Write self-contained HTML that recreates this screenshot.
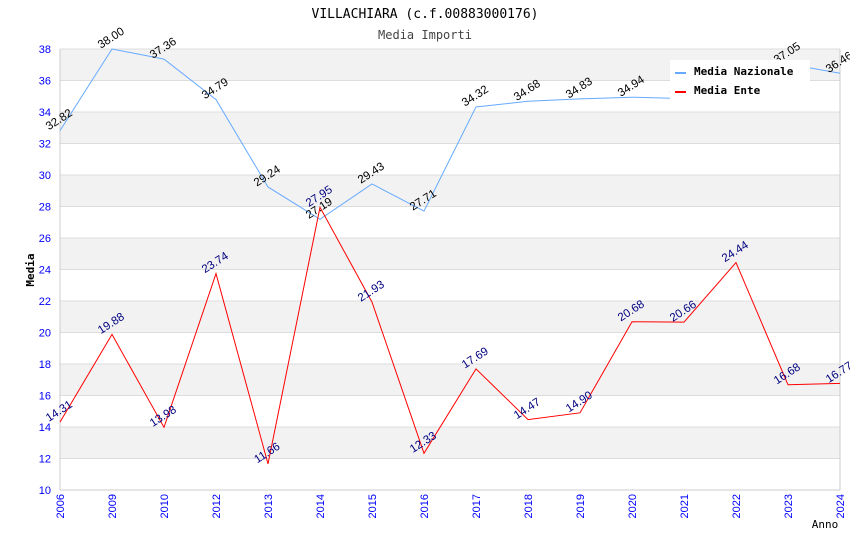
<!DOCTYPE html>
<html><head><meta charset="utf-8"><style>
body{margin:0;background:#fff;width:850px;height:550px;overflow:hidden}
svg{font-family:"DejaVu Sans Mono","Liberation Mono",monospace}
</style></head><body>
<svg id="c" width="850" height="550">
<text x="425" y="18" text-anchor="middle" font-size="13" fill="#000">VILLACHIARA (c.f.00883000176)</text>
<text x="425" y="39" text-anchor="middle" font-size="12" fill="#444">Media Importi</text>
<g id="bands"></g><g id="grid"></g><g id="axes"></g><g id="lines"></g><g id="labels"></g>
<text transform="translate(34,270) rotate(-90)" text-anchor="middle" font-size="11" font-weight="bold">Media</text>
<text x="825" y="528" text-anchor="middle" font-size="11">Anno</text>
<g>
<rect x="670" y="60" width="140" height="40" fill="#fff"/>
<line x1="675" y1="73" x2="686" y2="73" stroke="#66aaff" stroke-width="2"/>
<text x="694" y="75" font-size="11" font-weight="bold">Media Nazionale</text>
<line x1="675" y1="92" x2="686" y2="92" stroke="#ff0000" stroke-width="2"/>
<text x="694" y="94" font-size="11" font-weight="bold">Media Ente</text>
</g>
</svg>
<script>
const categories=["2006","2009","2010","2012","2013","2014","2015","2016","2017","2018","2019","2020","2021","2022","2023","2024"];
const nazionale=[32.82,38.00,37.36,34.79,29.24,27.19,29.43,27.71,34.32,34.68,34.83,34.94,34.85,35.9,37.05,36.46];
const ente=[14.31,19.88,13.98,23.74,11.66,27.95,21.93,12.33,17.69,14.47,14.90,20.68,20.66,24.44,16.68,16.77];
const yTicks=[10,12,14,16,18,20,22,24,26,28,30,32,34,36,38];
const L=60,R=840,T=49,B=490,yMin=10,yMax=38;
const xs=i=>L+(R-L)*i/(categories.length-1);
const ys=v=>B-(v-yMin)/(yMax-yMin)*(B-T);
const NS="http://www.w3.org/2000/svg";
function mk(tag,parent,attrs){const e=document.createElementNS(NS,tag);for(const k in attrs)e.setAttribute(k,attrs[k]);document.getElementById(parent).appendChild(e);return e;}
for(let i=0;i<yTicks.length-1;i++){
  if(i%2===1){const r=mk('rect','bands',{x:L,y:ys(yTicks[i+1]),width:R-L,height:ys(yTicks[i])-ys(yTicks[i+1]),fill:'#f2f2f2'});
  
  }
}
yTicks.forEach(v=>{
  const g=mk('line','grid',{x1:L,x2:R,y1:ys(v),y2:ys(v),stroke:'#ddd'});
  
  
  const t=mk('text','axes',{x:L-9,y:ys(v)+4,'text-anchor':'end','font-size':11,fill:'#0000ff','font-family':'Liberation Sans, sans-serif'});
  t.textContent=v;
  
  
});
mk('line','axes',{x1:L,x2:L,y1:T,y2:B,stroke:'#ccc'});
mk('line','axes',{x1:R,x2:R,y1:T,y2:B,stroke:'#ccc'});
mk('line','axes',{x1:L,x2:R,y1:B,y2:B,stroke:'#ccc'});
categories.forEach((c,i)=>{
  const t=mk('text','axes',{transform:`translate(${xs(i)+4},${B+4}) rotate(-90)`,'text-anchor':'end','font-size':11,fill:'#0000ff','font-family':'Liberation Sans, sans-serif'});
  t.textContent=c;
  
  
});
function series(data,color,lab,name){
  const p=mk('polyline','lines',{points:data.map((v,i)=>xs(i)+','+ys(v)).join(' '),fill:'none',stroke:color,'stroke-width':1});
  
  
  data.forEach((v,i)=>{
    const t=mk('text','labels',{transform:`translate(${xs(i)+1},${ys(v)-8}) rotate(-33)`,'text-anchor':'middle','font-size':11.5,fill:lab,'font-family':'Liberation Sans, sans-serif'});
    t.textContent=v.toFixed(2);
    
    
  });
}
series(nazionale,'#66aaff','#000','nazionale');
series(ente,'#ff0000','#000080','ente');
</script>
</body></html>
